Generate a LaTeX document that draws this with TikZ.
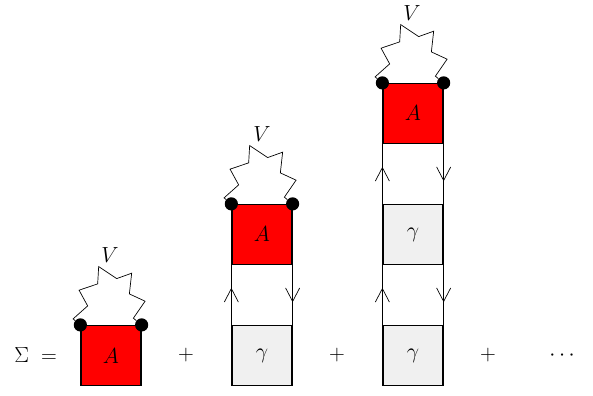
\documentclass[tikz,border=0pt]{standalone}
\usepackage{amsmath}
\usepackage{amssymb}
\usetikzlibrary{arrows.meta,decorations.markings}

\tikzset{
  redbox/.style={draw, line width=1.2pt, fill=red, minimum size=2cm, inner sep=0pt, font=\huge},
  graybox/.style={draw, line width=1.2pt, fill=black!6, minimum size=2cm, inner sep=0pt, font=\huge},
  blob/.style={circle, fill=black, minimum size=0.44cm, inner sep=0pt},
  lab/.style={font=\huge},
  wig/.style={line width=0.65pt},
  prop/.style={line width=0.65pt, postaction={decorate}, decoration={markings, mark=at position 0.62 with {\arrow{Straight Barb[length=0.45cm,width=0.47cm,line width=0.65pt]}}}}
}

\begin{document}
\begin{tikzpicture}

\useasboundingbox (0,0.017) rectangle (19.767,13.184);

\node[lab] (sigma) at (1.19,1.333) {$\Sigma\;=$};

\node[redbox] (a1) at (3.7,1.333) {$A$};
\node[blob] (l1) at (a1.north west) {};
\node[blob] (r1) at (a1.north east) {};
\draw[wig] (l1) -- ++(-0.243,0.2) -- ++(0.486,0.433) -- ++(-0.286,0.524) -- ++(0.62,0.21) -- ++(0.033,0.576) -- ++(0.6,-0.4) -- ++(0.5,0.18) -- ++(-0.077,-0.69) -- ++(0.524,-0.243) -- ++(-0.39,-0.567) -- (r1);
\node[lab] (v1) at (3.67,4.667) {$V$};

\node[lab] (plus1) at (6.2,1.333) {$+$};

 \begin{scope}[shift={(5.033,0)}]

\node[graybox] (g2) at (3.7,1.333) {$\gamma$};
\node[redbox] (a2) at (3.7,5.367) {$A$};
\node[blob] (l2) at (a2.north west) {};
\node[blob] (r2) at (a2.north east) {};
\draw[wig] (l2) -- ++(-0.243,0.2) -- ++(0.486,0.433) -- ++(-0.286,0.524) -- ++(0.62,0.21) -- ++(0.033,0.576) -- ++(0.6,-0.4) -- ++(0.5,0.18) -- ++(-0.077,-0.69) -- ++(0.524,-0.243) -- ++(-0.39,-0.567) -- (r2);
\node[lab] (v2) at (3.7,8.7) {$V$};
\draw[prop] (g2.north west) -- (a2.south west);
\draw[prop] (a2.south east) -- (g2.north east);

\node[lab] (plus2) at (6.2,1.333) {$+$};

 \end{scope}

 \begin{scope}[shift={(10.067,0)}]

\node[graybox] (g3) at (3.7,1.333) {$\gamma$};
\node[graybox] (h3) at (3.7,5.367) {$\gamma$};
\node[redbox] (a3) at (3.7,9.4) {$A$};
\node[blob] (l3) at (a3.north west) {};
\node[blob] (r3) at (a3.north east) {};
\draw[wig] (l3) -- ++(-0.243,0.2) -- ++(0.486,0.433) -- ++(-0.286,0.524) -- ++(0.62,0.21) -- ++(0.033,0.576) -- ++(0.6,-0.4) -- ++(0.5,0.18) -- ++(-0.077,-0.69) -- ++(0.524,-0.243) -- ++(-0.39,-0.567) -- (r3);
\node[lab] (v3) at (3.67,12.733) {$V$};
\draw[prop] (g3.north west) -- (h3.south west);
\draw[prop] (h3.south east) -- (g3.north east);
\draw[prop] (h3.north west) -- (a3.south west);
\draw[prop] (a3.south east) -- (h3.north east);

\node[lab] (plus3) at (6.2,1.333) {$+$};
\node[lab] (dots) at (8.73,1.333) {$\cdots$};

 \end{scope}

\end{tikzpicture}
\end{document}
